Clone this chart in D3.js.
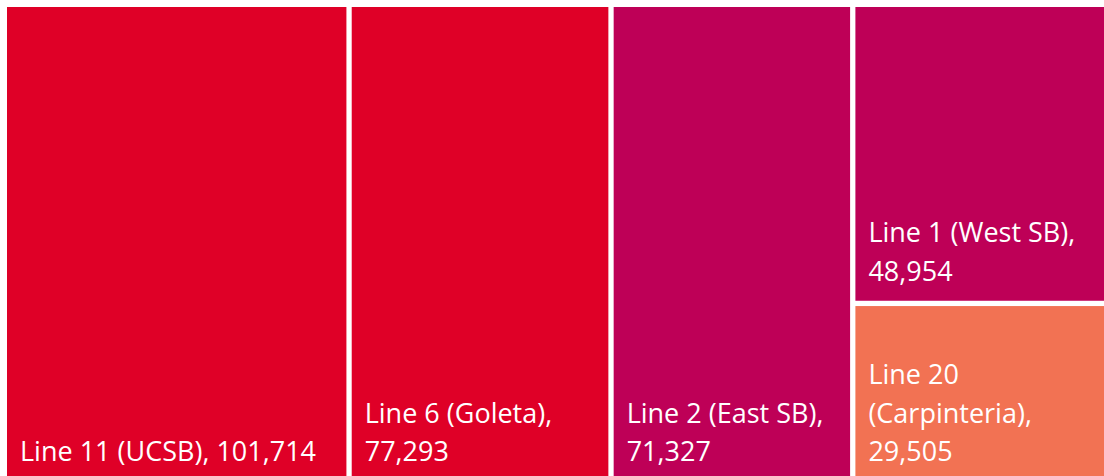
<!DOCTYPE html>
<html>
<head>
<meta charset="utf-8">
<script src="https://cdn.jsdelivr.net/npm/d3@7"></script>
<style>
  html, body { margin: 0; padding: 0; background: #ffffff; overflow: hidden; }
  svg { display: block; }
  .label { font-family: "Open Sans", "Noto Sans", sans-serif; fill: #ffffff; }
</style>
</head>
<body>
<svg id="chart" width="1104" height="476"></svg>
<script>
// Route names and annual boardings
const routes = ["Line 11 (UCSB)", "Line 6 (Goleta)", "Line 2 (East SB)", "Line 1 (West SB)", "Line 20 (Carpinteria)"];
const riders = [101714, 77293, 71327, 48954, 29505];
// Which column of the treemap each route sits in
const columns = [0, 1, 2, 3, 3];
// Colour group of each route
const groups = ["A", "A", "B", "B", "C"];
const groupColors = ["#DF0027", "#BE0057", "#F27253"];

const svg = d3.select("#chart");
const W = 1109, H = 474, X0 = 7, Y0 = 7;
const fontSize = 27, lineGap = 38.5, padX = 13, padBottom = 20;

// Build a two-level hierarchy: columns, then the routes stacked in each column
const colIds = Array.from(new Set(columns));
const tree = {
  name: "root",
  children: colIds.map(c => ({
    name: "col" + c,
    children: routes.map((r, i) => ({ name: r, value: riders[i], group: groups[i] }))
                    .filter((d, i) => columns[i] === c)
  }))
};

const color = d3.scaleOrdinal().domain(["A", "B", "C"]).range(groupColors);
const fmt = d3.format(",");

const root = d3.hierarchy(tree).sum(d => d.value || 0);
d3.treemap()
  .tile(d3.treemapSliceDice)
  .size([W, H])
  .paddingInner(5.3)
  .round(false)(root);

const g = svg.append("g").attr("transform", `translate(${X0},${Y0})`);
const leaves = g.selectAll("g.leaf").data(root.leaves()).join("g").attr("class", "leaf");

leaves.append("rect")
  .attr("x", d => d.x0)
  .attr("y", d => d.y0)
  .attr("width", d => d.x1 - d.x0)
  .attr("height", d => d.y1 - d.y0)
  .attr("fill", d => color(d.data.group));

// Word-wrap each label to the tile width, then anchor it to the tile's bottom
leaves.each(function (d) {
  const sel = d3.select(this);
  const text = sel.append("text").attr("class", "label").style("font-size", fontSize + "px");
  const words = (d.data.name + ", " + fmt(d.data.value)).split(" ");
  const maxW = (d.x1 - d.x0) - 2 * padX;
  const lines = [];
  let cur = "";
  const probe = text.append("tspan");
  words.forEach(w => {
    const trial = cur ? cur + " " + w : w;
    probe.text(trial);
    if (cur && probe.node().getComputedTextLength() > maxW) {
      lines.push(cur);
      cur = w;
    } else {
      cur = trial;
    }
  });
  if (cur) lines.push(cur);
  probe.remove();
  const lastBase = d.y1 - padBottom;
  lines.forEach((ln, i) => {
    text.append("tspan")
      .attr("x", d.x0 + padX)
      .attr("y", lastBase - (lines.length - 1 - i) * lineGap)
      .text(ln);
  });
});
</script>
</body>
</html>
